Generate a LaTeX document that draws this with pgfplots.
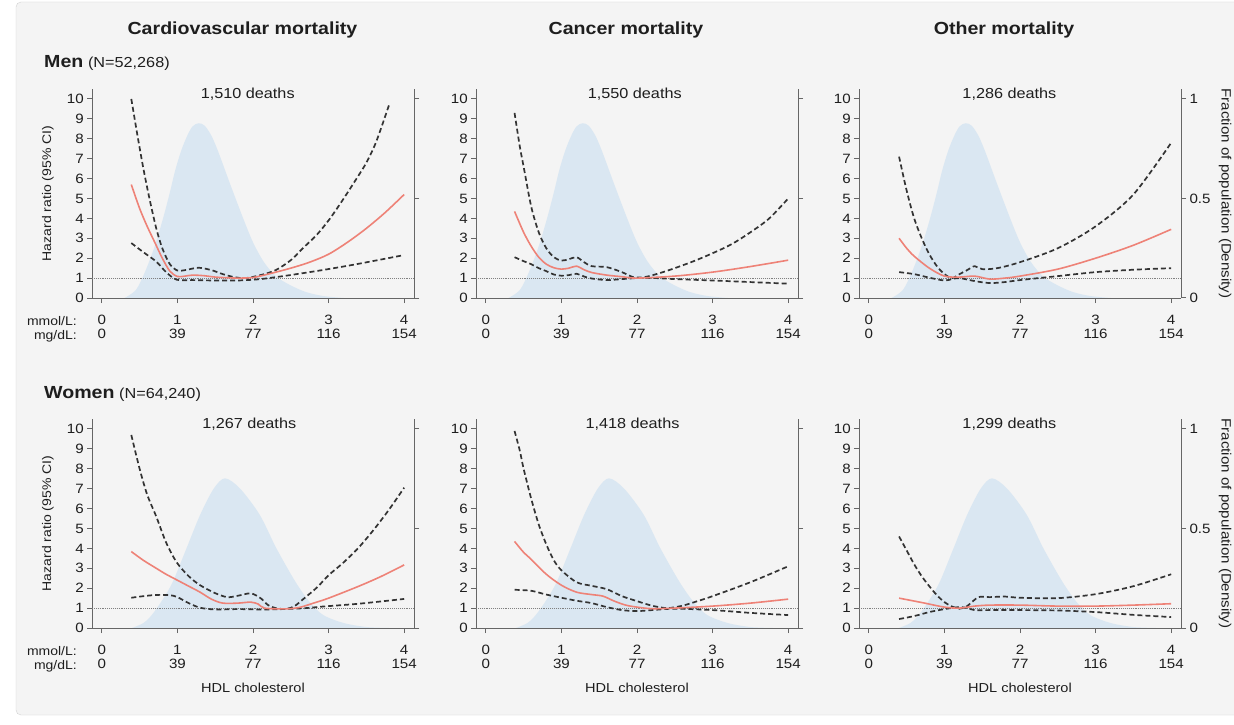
\documentclass[border=0pt]{standalone}
\usepackage{pgfplots}
\pgfplotsset{compat=1.18}
\usepackage{fontspec}
\setmainfont{Liberation Sans}[FakeStretch=1.12]
\definecolor{bg}{HTML}{F4F4F4}
\definecolor{frame}{HTML}{D2D2D2}
\definecolor{dens}{HTML}{DAE7F2}
\definecolor{hrred}{HTML}{EE8277}
\definecolor{ci}{HTML}{333333}
\definecolor{axg}{HTML}{666666}
\definecolor{txt}{HTML}{1E1E1E}
\pgfplotsset{
  base/.style={scale only axis, width=322pt, height=209pt, xmin=-0.13, xmax=4.13, clip=false,
    axis line style={draw=axg, line width=1pt},
    tick style={draw=axg, line width=1pt},
    tick align=outside, major tick length=5pt,
    /pgf/number format/assume math mode=true,
    tick label style={font=\fontsize{13.5}{13.5}\selectfont, text=txt}},
  main/.style={base, ymin=0, ymax=10.5, axis x line*=bottom, axis y line*=left,
    ytick={0,1,...,10}, xtick={0,1,2,3,4},
    xticklabels={{0\\0},{1\\39},{2\\77},{3\\116},{4\\154}},
    xticklabel style={align=center, font=\fontsize{13.5}{13.5}\selectfont, yshift=-9pt},
    yticklabel style={inner xsep=3pt}},
  sec/.style={base, ymin=0, ymax=1.05, axis x line=none, axis y line*=right, ytick={0,0.5,1}},
  hr/.style={hrred, line width=1.6pt, smooth},
  cil/.style={ci, line width=1.7pt, dash pattern=on 5pt off 3pt, smooth},
  refl/.style={gray, densely dotted, line width=0.9pt},
  dfill/.style={draw=none, fill=dens, smooth},
  ylab/.style={ylabel={Hazard ratio (95\% CI)}, ylabel style={at={(axis description cs:-0.137,0.5)}, anchor=center, font=\fontsize{12.5}{12.5}\selectfont, text=txt}},
  xlab/.style={xlabel={HDL cholesterol}, xlabel style={at={(axis description cs:0.5,-0.287)}, anchor=center, font=\fontsize{13}{13}\selectfont, text=txt}},
}
\newcommand{\deaths}[2]{\node[font=\fontsize{14.5}{14.5}\selectfont, text=txt] at (axis cs:#1,10.25) {#2};}
\newcommand{\denslab}{\node[rotate=-90, font=\fontsize{13.5}{13.5}\selectfont, text=txt] at (rel axis cs:1.137,0.5) {Fraction of population (Density)};}
\begin{document}
\begin{tikzpicture}
\useasboundingbox (0,0) rectangle (1234pt,724pt);
\fill[white] (0,0) rectangle (1234pt,724pt);
\filldraw[fill=bg, draw=frame, rounded corners=5pt] (16pt,9pt) rectangle (1250pt,722pt);
% titles
\node[font=\bfseries\fontsize{17.5}{17.5}\selectfont, text=txt] at (242.5pt,694pt) {Cardiovascular mortality};
\node[font=\bfseries\fontsize{17.5}{17.5}\selectfont, text=txt] at (626pt,694pt) {Cancer mortality};
\node[font=\bfseries\fontsize{17.5}{17.5}\selectfont, text=txt] at (1004pt,694pt) {Other mortality};
\node[anchor=base west, inner sep=0pt, text=txt] at (44pt,656pt) {{\bfseries\fontsize{17.5}{17.5}\selectfont Men} \hspace{1.5pt}{\fontsize{14.5}{14.5}\selectfont (N=52,268)}};
\node[anchor=base west, inner sep=0pt, text=txt] at (44pt,326pt) {{\bfseries\fontsize{17.5}{17.5}\selectfont Women} \hspace{1.5pt}{\fontsize{14.5}{14.5}\selectfont (N=64,240)}};
\foreach \yy in {403,73} {
  \node[anchor=east, inner sep=0pt, font=\fontsize{12.5}{12.5}\selectfont, text=txt] at (77pt,\yy pt) {mmol/L:};
  \node[anchor=east, inner sep=0pt, font=\fontsize{12.5}{12.5}\selectfont, text=txt] at (77pt,\yy pt-15pt) {mg/dL:};
}

% ================= MEN: Cardiovascular =================
\begin{axis}[sec, at={(92pt,426pt)}, anchor=south west, yticklabels={,,}]
\addplot[dfill] coordinates {(0.30,0) (0.45,0.04) (0.57,0.13) (0.70,0.26) (0.81,0.40) (0.90,0.53) (0.97,0.64) (1.05,0.74) (1.13,0.815) (1.20,0.862) (1.28,0.878) (1.36,0.866) (1.45,0.815) (1.54,0.735) (1.70,0.57) (1.87,0.40) (2.00,0.28) (2.14,0.183) (2.30,0.11) (2.49,0.065) (2.70,0.03) (2.93,0.01) (3.20,0)} \closedcycle;
\end{axis}
\begin{axis}[main, ylab, at={(92pt,426pt)}, anchor=south west]
\addplot[refl] coordinates {(-0.13,1) (4.13,1)};
\addplot[cil] coordinates {(0.39,10.0) (0.47,8.2) (0.55,6.5) (0.63,5.0) (0.72,3.5) (0.8,2.5) (0.9,1.7) (1.0,1.38) (1.1,1.4) (1.28,1.52) (1.45,1.4) (1.6,1.2) (1.75,1.05) (1.9,1.0) (2.1,1.15) (2.3,1.4) (2.5,1.9) (2.66,2.5) (2.85,3.2) (3.02,4.0) (3.2,5.0) (3.37,6.0) (3.5,6.8) (3.63,7.85) (3.8,9.7)};
\addplot[cil] coordinates {(0.39,2.76) (0.55,2.3) (0.72,1.83) (0.85,1.3) (0.99,0.92) (1.2,0.9) (1.5,0.88) (1.8,0.88) (2.1,0.95) (2.49,1.15) (2.93,1.41) (3.37,1.7) (3.99,2.15)};
\addplot[hr] coordinates {(0.39,5.7) (0.5,4.5) (0.6,3.6) (0.7,2.8) (0.8,2.0) (0.9,1.35) (1.0,1.08) (1.1,1.1) (1.2,1.15) (1.35,1.12) (1.5,1.05) (1.65,1.02) (1.8,1.0) (2.0,1.03) (2.2,1.2) (2.5,1.5) (2.75,1.8) (3.0,2.2) (3.25,2.8) (3.5,3.5) (3.75,4.3) (4.0,5.2)};
\deaths{1.93}{1,510 deaths}
\end{axis}

% ================= MEN: Cancer =================
\begin{axis}[sec, at={(476pt,426pt)}, anchor=south west, yticklabels={,,}]
\addplot[dfill] coordinates {(0.30,0) (0.45,0.04) (0.57,0.13) (0.70,0.26) (0.81,0.40) (0.90,0.53) (0.97,0.64) (1.05,0.74) (1.13,0.815) (1.20,0.862) (1.28,0.878) (1.36,0.866) (1.45,0.815) (1.54,0.735) (1.70,0.57) (1.87,0.40) (2.00,0.28) (2.14,0.183) (2.30,0.11) (2.49,0.065) (2.70,0.03) (2.93,0.01) (3.20,0)} \closedcycle;
\end{axis}
\begin{axis}[main, at={(476pt,426pt)}, anchor=south west]
\addplot[refl] coordinates {(-0.13,1) (4.13,1)};
\addplot[cil] coordinates {(0.38,9.3) (0.45,7.6) (0.5,6.6) (0.6,4.6) (0.7,3.3) (0.8,2.5) (0.9,2.05) (1.0,1.88) (1.1,1.95) (1.2,2.05) (1.3,1.8) (1.4,1.6) (1.6,1.55) (1.8,1.3) (1.95,1.05) (2.1,1.05) (2.3,1.25) (2.5,1.5) (2.75,1.85) (3.0,2.25) (3.25,2.7) (3.5,3.3) (3.75,4.0) (4.0,5.0)};
\addplot[cil] coordinates {(0.38,2.05) (0.5,1.85) (0.6,1.7) (0.7,1.5) (0.8,1.35) (0.9,1.18) (1.0,1.12) (1.1,1.15) (1.2,1.22) (1.3,1.08) (1.4,0.98) (1.6,0.9) (1.8,0.95) (2.0,1.0) (2.25,1.0) (2.5,0.95) (3.0,0.88) (3.5,0.8) (4.0,0.72)};
\addplot[hr] coordinates {(0.38,4.35) (0.5,3.3) (0.6,2.6) (0.7,2.05) (0.8,1.7) (0.9,1.52) (1.0,1.45) (1.1,1.5) (1.2,1.6) (1.3,1.42) (1.4,1.28) (1.6,1.15) (1.8,1.07) (2.0,1.0) (2.5,1.1) (3.0,1.3) (3.5,1.58) (4.0,1.9)};
\deaths{1.97}{1,550 deaths}
\end{axis}

% ================= MEN: Other =================
\begin{axis}[sec, at={(859pt,426pt)}, anchor=south west]
\addplot[dfill] coordinates {(0.30,0) (0.45,0.04) (0.57,0.13) (0.70,0.26) (0.81,0.40) (0.90,0.53) (0.97,0.64) (1.05,0.74) (1.13,0.815) (1.20,0.862) (1.28,0.878) (1.36,0.866) (1.45,0.815) (1.54,0.735) (1.70,0.57) (1.87,0.40) (2.00,0.28) (2.14,0.183) (2.30,0.11) (2.49,0.065) (2.70,0.03) (2.93,0.01) (3.20,0)} \closedcycle;
\denslab
\end{axis}
\begin{axis}[main, at={(859pt,426pt)}, anchor=south west]
\addplot[refl] coordinates {(-0.13,1) (4.13,1)};
\addplot[cil] coordinates {(0.4,7.1) (0.5,5.4) (0.6,4.0) (0.7,3.0) (0.8,2.2) (0.9,1.6) (1.0,1.2) (1.1,1.0) (1.2,1.2) (1.3,1.4) (1.4,1.6) (1.5,1.45) (1.7,1.5) (2.0,1.8) (2.5,2.5) (3.0,3.6) (3.5,5.2) (4.0,7.8)};
\addplot[cil] coordinates {(0.4,1.3) (0.6,1.2) (0.8,1.02) (1.0,0.88) (1.1,0.95) (1.2,1.0) (1.4,0.85) (1.6,0.75) (1.8,0.8) (2.0,0.9) (2.5,1.1) (3.0,1.3) (3.5,1.42) (4.0,1.5)};
\addplot[hr] coordinates {(0.4,3.0) (0.5,2.5) (0.6,2.1) (0.8,1.5) (1.0,1.1) (1.2,1.05) (1.4,1.1) (1.6,0.95) (1.8,1.0) (2.0,1.1) (2.5,1.45) (3.0,2.0) (3.5,2.65) (4.0,3.45)};
\deaths{1.86}{1,286 deaths}
\end{axis}

% ================= WOMEN: Cardiovascular =================
\begin{axis}[sec, at={(92pt,96pt)}, anchor=south west, yticklabels={,,}]
\addplot[dfill] coordinates {(0.40,0) (0.55,0.025) (0.66,0.065) (0.80,0.14) (0.94,0.233) (1.12,0.40) (1.30,0.568) (1.48,0.70) (1.63,0.752) (1.83,0.70) (2.09,0.568) (2.31,0.40) (2.56,0.233) (2.75,0.13) (2.93,0.065) (3.20,0.025) (3.50,0.005) (3.80,0)} \closedcycle;
\end{axis}
\begin{axis}[main, ylab, xlab, at={(92pt,96pt)}, anchor=south west]
\addplot[refl] coordinates {(-0.13,1) (4.13,1)};
\addplot[cil] coordinates {(0.39,9.7) (0.5,8.0) (0.6,6.7) (0.72,5.6) (0.85,4.3) (0.99,3.3) (1.15,2.6) (1.3,2.15) (1.5,1.75) (1.66,1.55) (1.8,1.62) (1.97,1.74) (2.1,1.5) (2.2,1.15) (2.32,0.98) (2.45,0.97) (2.55,1.1) (2.68,1.5) (2.85,2.05) (3.0,2.65) (3.2,3.3) (3.4,4.05) (3.6,4.95) (3.8,5.95) (4.0,7.05)};
\addplot[cil] coordinates {(0.39,1.52) (0.55,1.6) (0.72,1.66) (0.9,1.65) (1.0,1.55) (1.15,1.25) (1.3,1.02) (1.5,0.93) (1.8,0.95) (2.1,0.93) (2.4,0.95) (2.7,1.0) (2.93,1.08) (3.4,1.22) (4.0,1.46)};
\addplot[hr] coordinates {(0.39,3.84) (0.55,3.4) (0.72,3.0) (0.85,2.7) (1.0,2.4) (1.15,2.1) (1.3,1.8) (1.45,1.45) (1.6,1.25) (1.8,1.25) (1.97,1.3) (2.07,1.2) (2.15,1.0) (2.4,0.96) (2.6,1.02) (2.8,1.25) (3.0,1.5) (3.4,2.1) (3.7,2.6) (4.0,3.17)};
\deaths{1.95}{1,267 deaths}
\end{axis}

% ================= WOMEN: Cancer =================
\begin{axis}[sec, at={(476pt,96pt)}, anchor=south west, yticklabels={,,}]
\addplot[dfill] coordinates {(0.40,0) (0.55,0.025) (0.66,0.065) (0.80,0.14) (0.94,0.233) (1.12,0.40) (1.30,0.568) (1.48,0.70) (1.63,0.752) (1.83,0.70) (2.09,0.568) (2.31,0.40) (2.56,0.233) (2.75,0.13) (2.93,0.065) (3.20,0.025) (3.50,0.005) (3.80,0)} \closedcycle;
\end{axis}
\begin{axis}[main, xlab, at={(476pt,96pt)}, anchor=south west]
\addplot[refl] coordinates {(-0.13,1) (4.13,1)};
\addplot[cil] coordinates {(0.38,9.9) (0.45,8.9) (0.5,8.0) (0.6,6.5) (0.7,5.2) (0.8,4.2) (0.9,3.4) (1.0,2.9) (1.2,2.3) (1.4,2.12) (1.6,1.95) (1.8,1.6) (2.0,1.35) (2.2,1.12) (2.4,1.0) (2.6,1.12) (2.8,1.35) (3.0,1.6) (3.5,2.3) (4.0,3.1)};
\addplot[cil] coordinates {(0.38,1.92) (0.6,1.87) (0.8,1.68) (1.0,1.52) (1.2,1.37) (1.4,1.25) (1.6,1.05) (1.8,0.9) (2.0,0.85) (2.2,0.9) (2.5,0.97) (3.0,0.9) (3.5,0.76) (4.0,0.65)};
\addplot[hr] coordinates {(0.38,4.35) (0.5,3.8) (0.6,3.45) (0.8,2.7) (1.0,2.15) (1.2,1.8) (1.4,1.68) (1.55,1.6) (1.7,1.35) (1.85,1.15) (2.0,1.05) (2.2,0.97) (2.5,1.0) (3.0,1.1) (3.5,1.25) (4.0,1.45)};
\deaths{1.94}{1,418 deaths}
\end{axis}

% ================= WOMEN: Other =================
\begin{axis}[sec, at={(859pt,96pt)}, anchor=south west]
\addplot[dfill] coordinates {(0.40,0) (0.55,0.025) (0.66,0.065) (0.80,0.14) (0.94,0.233) (1.12,0.40) (1.30,0.568) (1.48,0.70) (1.63,0.752) (1.83,0.70) (2.09,0.568) (2.31,0.40) (2.56,0.233) (2.75,0.13) (2.93,0.065) (3.20,0.025) (3.50,0.005) (3.80,0)} \closedcycle;
\denslab
\end{axis}
\begin{axis}[main, xlab, at={(859pt,96pt)}, anchor=south west]
\addplot[refl] coordinates {(-0.13,1) (4.13,1)};
\addplot[cil] coordinates {(0.4,4.6) (0.5,3.9) (0.6,3.2) (0.7,2.6) (0.8,2.1) (0.9,1.65) (1.0,1.3) (1.1,1.08) (1.2,0.97) (1.3,1.1) (1.45,1.55) (1.6,1.55) (1.8,1.58) (2.0,1.52) (2.5,1.5) (3.0,1.7) (3.5,2.1) (4.0,2.7)};
\addplot[cil] coordinates {(0.4,0.45) (0.6,0.6) (0.8,0.8) (1.0,0.95) (1.2,1.05) (1.3,1.0) (1.4,0.9) (1.6,0.9) (2.0,0.9) (2.5,0.88) (3.0,0.8) (3.5,0.66) (4.0,0.55)};
\addplot[hr] coordinates {(0.4,1.5) (0.7,1.28) (1.0,1.05) (1.2,1.0) (1.4,1.1) (1.6,1.15) (2.0,1.15) (2.5,1.1) (3.0,1.1) (3.5,1.15) (4.0,1.22)};
\deaths{1.86}{1,299 deaths}
\end{axis}
\end{tikzpicture}
\end{document}
